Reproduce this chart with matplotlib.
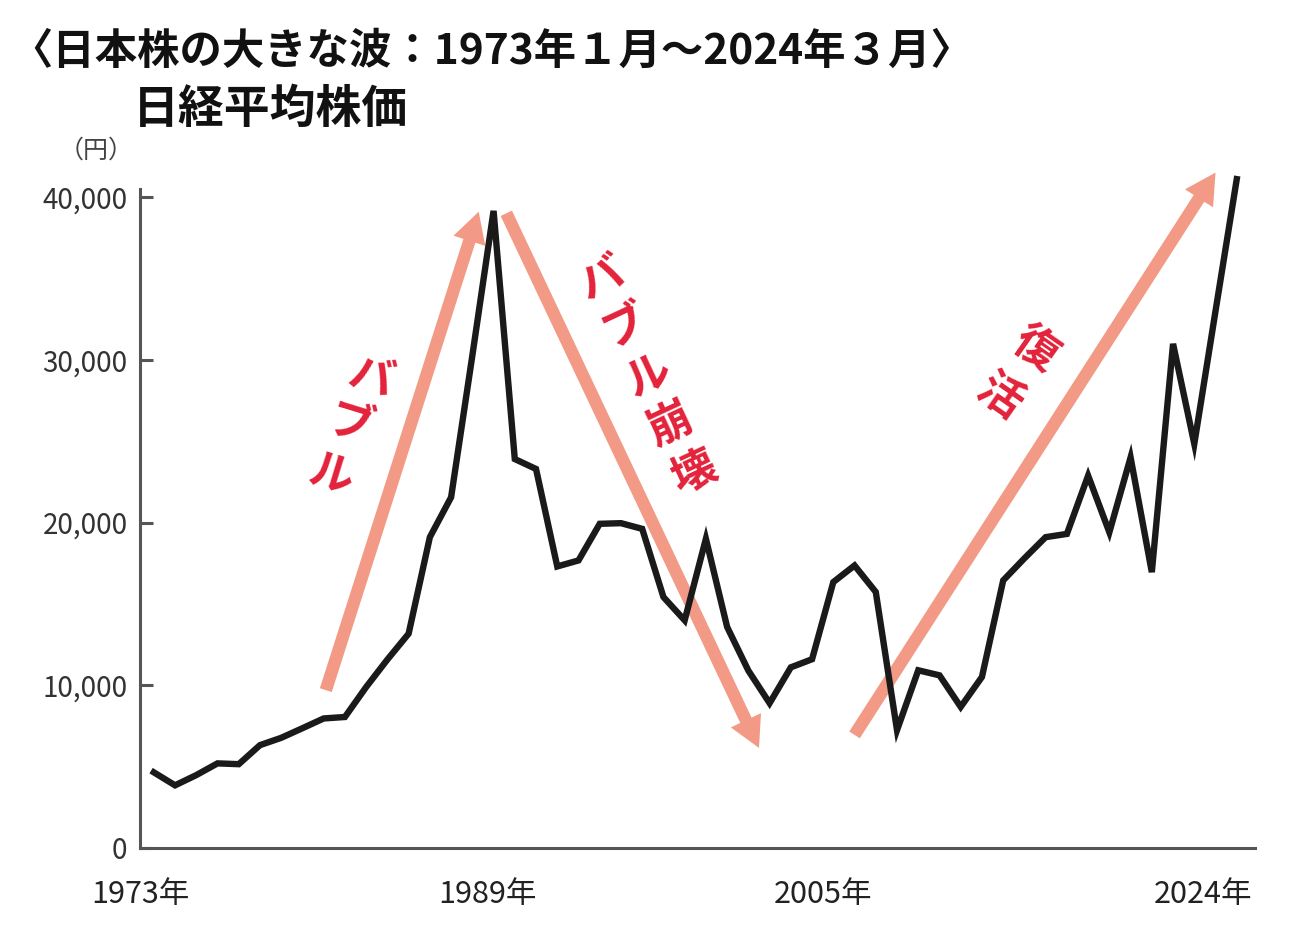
import matplotlib.pyplot as plt
from matplotlib.ticker import FuncFormatter

plt.rcParams['font.family'] = ['Noto Sans CJK JP', 'DejaVu Sans']

# 日経平均株価 (円)
years = list(range(1973, 2025))
nikkei = [4650, 3850, 4480, 5200, 5150, 6320, 6770, 7360, 7960, 8050,
          9890, 11580, 13170, 19100, 21550, 30250, 39150, 23900, 23290, 17300,
          17670, 19920, 19960, 19610, 15420, 13990, 19000, 13580, 10900, 8900,
          11100, 11600, 16340, 17360, 15730, 7240, 10920, 10610, 8670, 10510,
          16440, 17800, 19100, 19300, 22880, 19400, 24000, 16950, 30980, 24830,
          33000, 41100]

yticks = [0, 10000, 20000, 30000, 40000]
xtick_labels = ['1973年', '1989年', '2005年', '2024年']
xtick_pos = [1972.35, 1988.7, 2004.5, 2022.4]

# trend arrows: (start year, start value) -> (end year, end value)
arrows = [((1981.1, 9700), (1988.3, 39100)),
          ((1989.6, 39000), (2001.5, 6150)),
          ((2006.0, 6950), (2023.0, 41500))]

# red annotations, one character at a time along the arrows
notes = [('バブル', (1983.2, 28900), (-0.94, -2980), -17),
         ('バブル崩壊', (1994.1, 35000), (1.08, -3000), 25),
         ('復活', (2014.5, 30700), (-1.7, -2950), -35)]

red = '#e3223a'
salmon = '#f29a85'

fig = plt.figure(figsize=(13, 9.44), dpi=100)
ax = fig.add_axes([0.1077, 0.1017, 0.8577, 0.6982])

for (x0, y0), (x1, y1) in arrows:
    ax.annotate('', xy=(x1, y1), xytext=(x0, y0), annotation_clip=False,
                arrowprops=dict(arrowstyle='simple,head_length=1.1,head_width=1.2,tail_width=0.45',
                                mutation_scale=20, color=salmon, lw=0,
                                shrinkA=0, shrinkB=0), zorder=2)

ax.plot(years, nikkei, color='#1a1a1a', lw=4.6, solid_joinstyle='miter',
        clip_on=False, zorder=3)

for text, (x, y), (dx, dy), rot in notes:
    for i, ch in enumerate(text):
        ax.text(x + i * dx, y + i * dy, ch, color=red, fontsize=32,
                fontweight='bold', rotation=rot, ha='center', va='center',
                rotation_mode='anchor', zorder=4)

ax.set_xlim(1972.39, 2024.86)
ax.set_ylim(0, 40500)
ax.set_yticks(yticks)
ax.yaxis.set_major_formatter(FuncFormatter(lambda v, p: f'{int(v):,}'))
ax.set_xticks(xtick_pos)
ax.set_xticklabels(xtick_labels)

for s in ['top', 'right']:
    ax.spines[s].set_visible(False)
for s in ['left', 'bottom']:
    ax.spines[s].set_color('#555555')
    ax.spines[s].set_linewidth(2.2)

ax.tick_params(axis='y', direction='in', length=9, width=2.2, color='#555555',
               pad=9, labelsize=20, labelcolor='#333333')
ax.tick_params(axis='x', length=0, pad=22, labelsize=22, labelcolor='#222222')

fig.text(0.008, 0.945, '〈日本株の大きな波：1973年１月～2024年３月〉', fontsize=30.5,
         fontweight='bold', ha='left', va='center', color='#111111')
fig.text(0.102, 0.883, '日経平均株価', fontsize=33, fontweight='bold',
         ha='left', va='center', color='#111111')
fig.text(0.074, 0.841, '（円）', fontsize=18, ha='center', va='center',
         color='#444444')

fig.savefig('out.png', dpi=100, facecolor='white')
